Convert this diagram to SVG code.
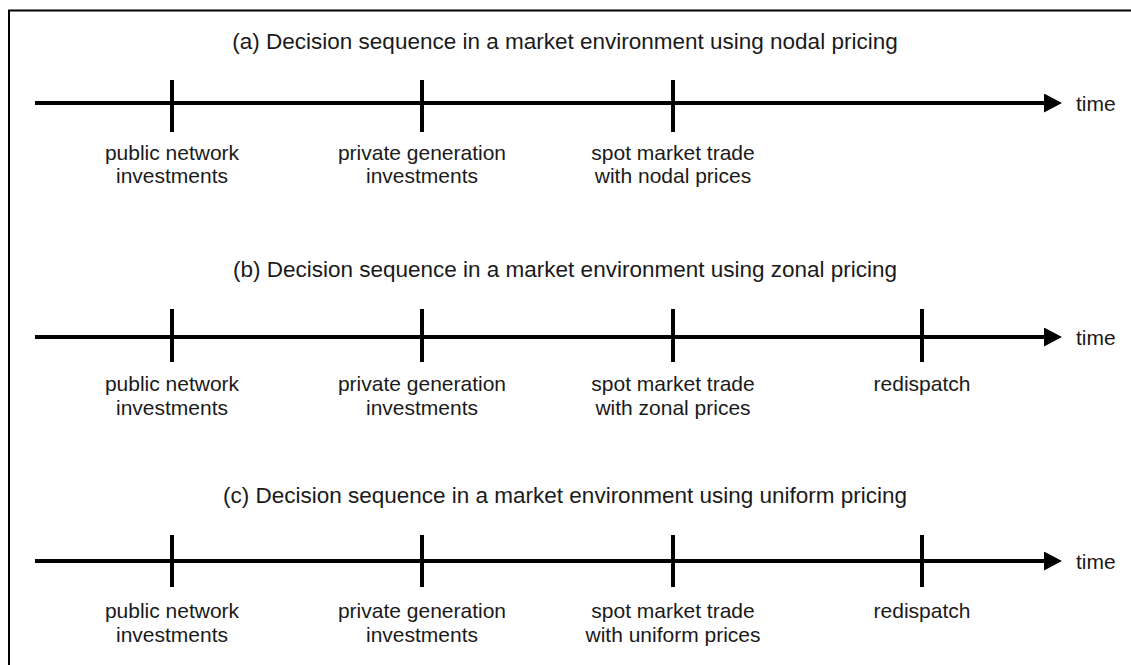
<svg xmlns="http://www.w3.org/2000/svg" width="1131" height="665" viewBox="0 0 1131 665">
  <style>
    text { font-family: "Liberation Sans", Arial, sans-serif; font-size: 21px; fill: #1a1a1a; }
    .title { text-anchor: middle; font-size: 22.5px; }
    .lbl { text-anchor: middle; }
    .axis { stroke: #000; stroke-width: 4; fill: none; }
    .tick { stroke: #000; stroke-width: 4; }
    .frame { fill: none; stroke: #000; stroke-width: 2; }
  </style>
  <defs>
    <marker id="arrow" markerUnits="userSpaceOnUse" markerWidth="18" markerHeight="19" refX="4" refY="9.5" orient="auto">
      <path d="M0,0 L18,9.5 L0,19 z" fill="#000"/>
    </marker>
  </defs>
  <rect width="1131" height="665" fill="#fff"/>
  <rect class="frame" x="9" y="10.5" width="1130" height="670"/>

  <g id="connectors">
    <line class="axis" x1="35" y1="103" x2="1048" y2="103" marker-end="url(#arrow)"/>
    <line class="axis" x1="35" y1="337" x2="1048" y2="337" marker-end="url(#arrow)"/>
    <line class="axis" x1="35" y1="561" x2="1048" y2="561" marker-end="url(#arrow)"/>
  </g>

  <!-- (a) -->
  <g id="title-a"><text class="title" x="565" y="49">(a) Decision sequence in a market environment using nodal pricing</text></g>
  <g id="time-a"><text x="1076" y="111">time</text></g>
  <g id="a-public">
    <line class="tick" x1="172" y1="80" x2="172" y2="132"/>
    <text class="lbl" x="172" y="160">public network</text>
    <text class="lbl" x="172" y="183">investments</text>
  </g>
  <g id="a-private">
    <line class="tick" x1="422" y1="80" x2="422" y2="132"/>
    <text class="lbl" x="422" y="160">private generation</text>
    <text class="lbl" x="422" y="183">investments</text>
  </g>
  <g id="a-spot">
    <line class="tick" x1="673" y1="80" x2="673" y2="132"/>
    <text class="lbl" x="673" y="160">spot market trade</text>
    <text class="lbl" x="673" y="183">with nodal prices</text>
  </g>

  <!-- (b) -->
  <g id="title-b"><text class="title" x="565" y="277">(b) Decision sequence in a market environment using zonal pricing</text></g>
  <g id="time-b"><text x="1076" y="345">time</text></g>
  <g id="b-public">
    <line class="tick" x1="172" y1="309" x2="172" y2="362"/>
    <text class="lbl" x="172" y="391">public network</text>
    <text class="lbl" x="172" y="415">investments</text>
  </g>
  <g id="b-private">
    <line class="tick" x1="422" y1="309" x2="422" y2="362"/>
    <text class="lbl" x="422" y="391">private generation</text>
    <text class="lbl" x="422" y="415">investments</text>
  </g>
  <g id="b-spot">
    <line class="tick" x1="673" y1="309" x2="673" y2="362"/>
    <text class="lbl" x="673" y="391">spot market trade</text>
    <text class="lbl" x="673" y="415">with zonal prices</text>
  </g>
  <g id="b-redispatch">
    <line class="tick" x1="922" y1="309" x2="922" y2="362"/>
    <text class="lbl" x="922" y="391">redispatch</text>
  </g>

  <!-- (c) -->
  <g id="title-c"><text class="title" x="565" y="503">(c) Decision sequence in a market environment using uniform pricing</text></g>
  <g id="time-c"><text x="1076" y="569">time</text></g>
  <g id="c-public">
    <line class="tick" x1="172" y1="535" x2="172" y2="587"/>
    <text class="lbl" x="172" y="618">public network</text>
    <text class="lbl" x="172" y="642">investments</text>
  </g>
  <g id="c-private">
    <line class="tick" x1="422" y1="535" x2="422" y2="587"/>
    <text class="lbl" x="422" y="618">private generation</text>
    <text class="lbl" x="422" y="642">investments</text>
  </g>
  <g id="c-spot">
    <line class="tick" x1="673" y1="535" x2="673" y2="587"/>
    <text class="lbl" x="673" y="618">spot market trade</text>
    <text class="lbl" x="673" y="642">with uniform prices</text>
  </g>
  <g id="c-redispatch">
    <line class="tick" x1="922" y1="535" x2="922" y2="587"/>
    <text class="lbl" x="922" y="618">redispatch</text>
  </g>
</svg>
